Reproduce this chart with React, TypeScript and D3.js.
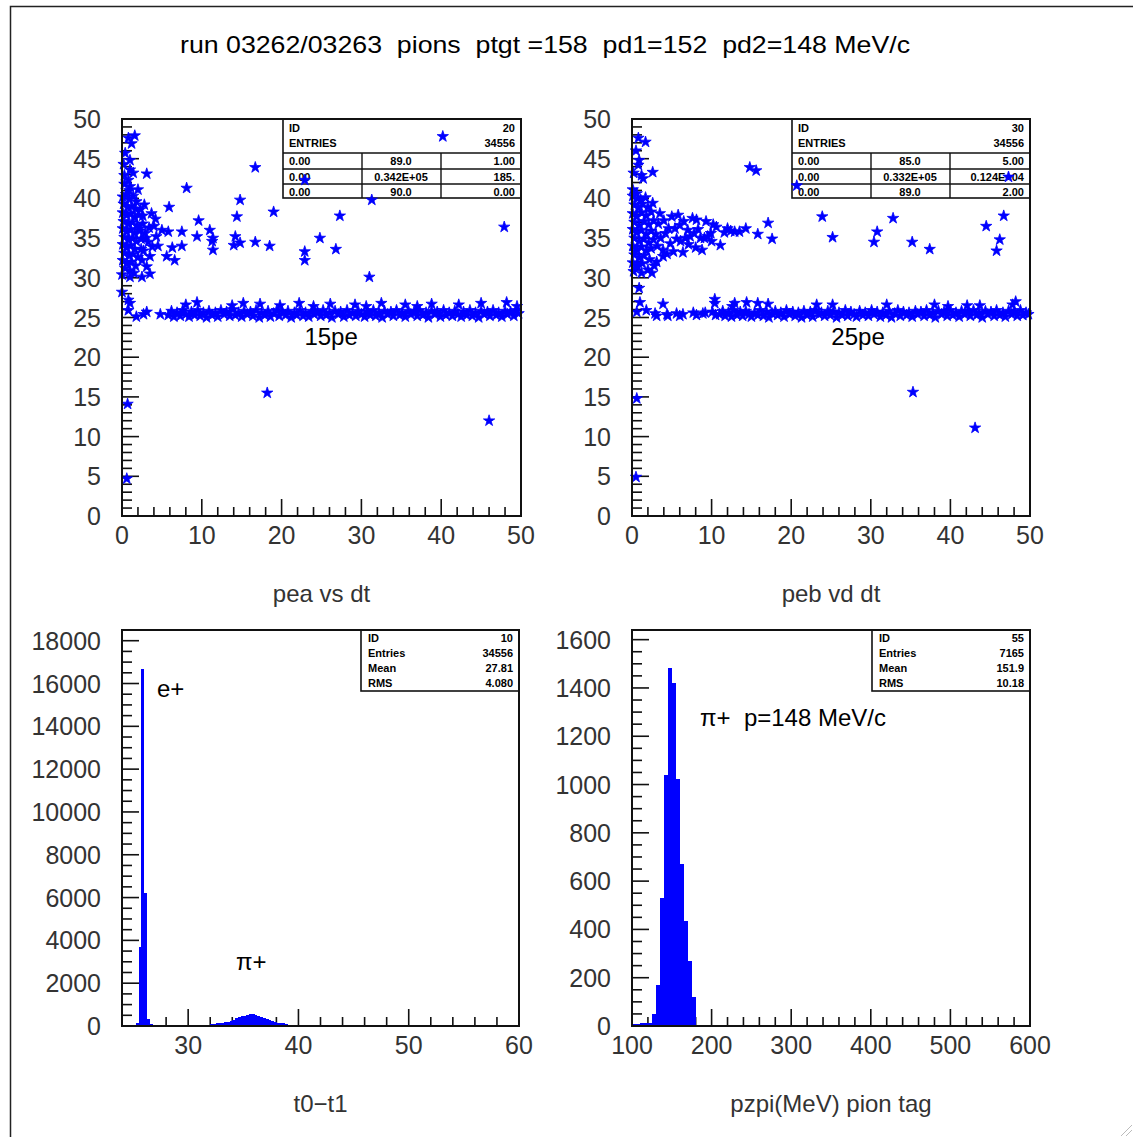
import React from 'react';
import * as d3 from 'd3';

// ---------------- DATA ----------------
const TITLE = 'run 03262/03263  pions  ptgt =158  pd1=152  pd2=148 MeV/c';

const scatterXTicks = [0, 10, 20, 30, 40, 50];
const scatterYTicks = [0, 5, 10, 15, 20, 25, 30, 35, 40, 45, 50];
const t01XTicks = [30, 40, 50, 60];
const t01YTicks = [0, 2000, 4000, 6000, 8000, 10000, 12000, 14000, 16000, 18000];
const pzXTicks = [100, 200, 300, 400, 500, 600];
const pzYTicks = [0, 200, 400, 600, 800, 1000, 1200, 1400, 1600];

const pts = (s: string): [number, number][] =>
  s.trim().split(/\s*,\s*/).map((p) => p.split(/\s+/).map(Number) as [number, number]);

// pea vs dt
const peaScattered = pts(`1.6 47.9, 0.8 47.6, 1.2 46.9, 0.4 45.7, 1.0 44.8, 0.2 44.3, 1.0 43.6, 1.4 43.2, 3.1 43.1,
 0.8 42.3, 0.3 41.8, 1.0 41.5, 2.0 41.1, 8.1 41.3, 16.7 43.9, 22.9 42.3, 14.8 39.8, 19.0 38.3, 14.4 37.7,
 5.9 38.9, 9.6 37.2, 3.7 38.1, 11.0 36.0, 9.4 35.2, 7.5 35.8, 11.4 35.0, 11.3 34.6, 14.2 35.2, 14.0 34.1,
 14.8 34.4, 16.7 34.5, 18.5 34.0, 11.4 33.5, 7.5 34.0, 6.3 33.8, 5.6 32.7, 6.6 32.2, 5.0 36.0, 5.8 35.8,
 4.3 35.2, 3.5 32.7, 3.1 31.4, 3.5 30.5, 2.5 30.1, 1.0 30.1, 0.0 28.2, 0.8 27.2, 1.0 26.8, 0.8 25.9,
 2.7 25.4, 3.1 25.7, 4.8 25.4, 1.8 25.1, 18.2 15.5, 0.7 14.1, 0.6 4.7, 22.9 33.3, 22.9 32.2, 24.8 35.0,
 26.8 33.6, 27.3 37.8, 31.3 39.8, 31.0 30.1, 40.2 47.8, 47.9 36.4, 46.0 12.0`);

const peaCluster = pts(`0.1 40.2, 0.5 40.5, 0.9 39.9, 1.4 40.3, 0.2 39.3, 0.7 38.9, 1.2 39.0, 1.7 38.7, 0.1 38.2,
 0.6 37.9, 1.1 38.1, 1.6 37.6, 2.1 37.9, 0.2 37.1, 0.8 36.8, 1.3 37.0, 1.9 36.6, 0.1 36.2, 0.6 35.8,
 1.1 36.1, 1.6 35.6, 2.2 35.9, 0.3 35.1, 0.8 34.8, 1.3 35.0, 1.8 34.6, 2.4 34.9, 0.1 34.2, 0.6 33.8,
 1.1 34.1, 1.6 33.6, 0.3 33.1, 0.9 32.8, 1.4 33.0, 2.0 32.6, 0.1 32.2, 0.6 31.8, 1.2 32.0, 1.7 31.5,
 0.4 31.2, 1.0 30.9, 0.0 30.4, 2.6 36.8, 2.9 35.6, 3.3 34.5, 2.7 33.4, 3.4 36.3, 2.5 32.2, 1.5 30.6,
 0.3 42.9, 0.9 41.0, 4.0 36.5, 2.6 37.8, 2.2 36.2, 3.0 35.0, 4.5 34.0, 2.4 33.6, 3.8 33.9, 2.8 39.2,
 1.8 39.6, 2.3 38.6, 4.2 37.4`);

const peaBand = pts(`5.8 25.3, 6.2 25.8, 6.5 25.1, 6.9 25.6, 7.3 25.2, 7.6 25.9, 8.0 25.4, 8.4 25.1, 8.7 25.7,
 9.1 25.3, 9.5 25.9, 9.8 25.2, 10.2 25.6, 10.6 25.0, 10.9 25.8, 11.3 25.3, 11.7 25.6, 12.0 25.1, 12.4 25.9,
 12.8 25.4, 13.1 25.7, 13.5 25.2, 13.9 26.0, 14.2 25.3, 14.6 25.6, 15.0 25.1, 15.3 25.8, 15.7 25.4, 16.1 25.7,
 16.4 25.2, 16.8 25.9, 17.2 25.0, 17.5 25.6, 17.9 25.3, 18.3 25.8, 18.6 25.1, 19.0 25.5, 19.4 25.9, 19.7 25.2,
 20.1 25.7, 20.5 25.3, 20.8 25.8, 21.2 25.0, 21.6 25.6, 21.9 25.3, 22.3 25.9, 22.7 25.2, 23.0 25.6, 23.4 25.1,
 23.8 25.8, 24.1 25.4, 24.5 25.7, 24.9 25.2, 25.2 25.9, 25.6 25.3, 26.0 25.6, 26.3 25.0, 26.7 25.8, 27.1 25.4,
 27.4 25.7, 27.8 25.1, 28.2 25.9, 28.5 25.3, 28.9 25.6, 29.3 25.2, 29.6 25.8, 30.0 25.4, 30.4 25.1, 30.7 25.7,
 31.1 25.3, 31.5 25.9, 31.8 25.2, 32.2 25.6, 32.6 25.0, 32.9 25.8, 33.3 25.4, 33.7 25.7, 34.0 25.2, 34.4 25.9,
 34.8 25.3, 35.1 25.6, 35.5 25.1, 35.9 25.8, 36.2 25.4, 36.6 25.7, 37.0 25.2, 37.3 25.9, 37.7 25.3, 38.1 25.6,
 38.4 25.0, 38.8 25.8, 39.2 25.4, 39.5 25.7, 39.9 25.1, 40.3 25.9, 40.6 25.3, 41.0 25.6, 41.4 25.2, 41.7 25.8,
 42.1 25.4, 42.5 25.1, 42.8 25.7, 43.2 25.3, 43.6 25.9, 43.9 25.2, 44.3 25.6, 44.7 25.0, 45.0 25.8, 45.4 25.4,
 45.8 25.7, 46.1 25.2, 46.5 25.9, 46.9 25.3, 47.2 25.6, 47.6 25.1, 48.0 25.8, 48.3 25.4, 48.7 25.7, 49.1 25.2,
 49.4 25.9, 49.7 25.5`);

const peaBandEdge = pts(`8.0 26.6, 9.4 26.9, 13.8 26.5, 15.2 26.8, 17.3 26.7, 19.8 26.5, 22.2 26.8, 24.0 26.4,
 26.1 26.7, 29.2 26.6, 30.6 26.4, 32.5 26.8, 35.5 26.6, 37.0 26.4, 38.8 26.7, 42.2 26.6, 45.0 26.8,
 48.2 26.9, 49.5 26.4`);

// peb vd dt
const pebScattered = pts(`0.8 47.6, 1.7 47.1, 0.5 46.0, 0.9 44.8, 0.8 44.2, 0.2 43.2, 1.2 42.9, 2.6 43.3, 1.4 42.5,
 0.1 41.1, 14.8 43.9, 15.6 43.5, 0.7 40.0, 17.1 36.9, 17.6 34.9, 15.8 35.5, 14.3 36.2, 12.9 35.8, 12.4 35.9,
 10.6 36.4, 11.1 34.1, 9.5 35.2, 9.1 35.0, 8.8 33.5, 8.6 35.0, 8.1 37.3, 9.3 37.1, 7.3 35.2, 6.7 35.0,
 6.4 33.2, 5.2 33.3, 4.8 34.3, 5.4 36.2, 4.6 36.2, 5.8 37.9, 5.0 37.7, 3.5 38.1, 3.9 33.5, 3.9 32.7,
 3.1 32.0, 2.0 31.0, 1.2 30.6, 0.7 31.4, 2.5 30.6, 0.9 28.7, 1.0 26.9, 0.6 25.7, 1.8 25.9, 3.9 26.7,
 0.6 14.8, 0.5 4.9, 23.9 37.7, 25.2 35.1, 30.8 35.8, 32.8 37.5, 30.4 34.5, 35.2 34.5, 37.4 33.6,
 44.5 36.5, 46.7 37.8, 46.2 34.8, 45.8 33.4, 35.3 15.6, 43.1 11.1, 20.7 41.6, 47.3 42.7, 10.4 27.3`);

const pebCluster = pts(`0.1 40.3, 0.6 40.6, 1.1 39.8, 1.7 40.1, 0.3 39.2, 0.8 38.8, 1.3 39.3, 2.0 38.9, 2.6 39.4,
 0.1 38.1, 0.6 37.7, 1.2 38.2, 1.8 37.8, 2.4 38.3, 0.3 37.0, 0.9 36.6, 1.5 37.1, 2.1 36.7, 2.7 37.2,
 0.1 36.1, 0.6 35.7, 1.2 36.0, 1.8 35.5, 2.4 35.9, 3.0 35.5, 0.3 35.0, 0.9 34.6, 1.5 34.9, 2.1 34.4,
 2.7 34.8, 0.1 34.0, 0.6 33.6, 1.2 33.9, 1.8 33.4, 2.4 33.7, 0.3 32.9, 0.9 32.5, 1.5 32.8, 2.2 32.3,
 0.1 31.9, 0.6 31.6, 1.3 31.8, 0.2 30.8, 0.4 33.3, 3.3 36.8, 3.6 35.0, 4.2 35.6, 3.2 34.0, 4.4 33.0,
 2.8 31.5, 5.6 34.9, 6.0 36.6, 7.0 36.0, 7.8 35.6, 8.3 36.1, 9.9 35.6, 10.2 36.7, 11.6 35.7, 12.0 36.2,
 13.5 35.8, 6.1 34.6, 7.1 34.2, 8.0 33.8, 10.0 34.6, 4.0 37.2, 6.5 37.1, 7.6 37.5`);

const pebBand = pts(`11.0 25.4, 11.4 25.8, 11.7 25.2, 12.1 25.6, 12.5 25.1, 12.8 25.9, 13.2 25.3, 13.6 25.7,
 13.9 25.2, 14.3 25.8, 14.7 25.4, 15.0 25.1, 15.4 25.6, 15.8 25.3, 16.1 25.9, 16.5 25.2, 16.9 25.7, 17.2 25.0,
 17.6 25.5, 18.0 25.8, 18.3 25.3, 18.7 25.6, 19.1 25.1, 19.4 25.9, 19.8 25.4, 20.2 25.7, 20.5 25.2, 20.9 25.6,
 21.3 25.0, 21.6 25.8, 22.0 25.3, 22.4 25.7, 22.7 25.1, 23.1 25.9, 23.5 25.4, 23.8 25.6, 24.2 25.2, 24.6 25.8,
 24.9 25.3, 25.3 25.7, 25.7 25.0, 26.0 25.6, 26.4 25.3, 26.8 25.9, 27.1 25.2, 27.5 25.7, 27.9 25.4, 28.2 25.1,
 28.6 25.8, 29.0 25.3, 29.3 25.6, 29.7 25.2, 30.1 25.9, 30.4 25.4, 30.8 25.7, 31.2 25.1, 31.5 25.6, 31.9 25.3,
 32.3 25.8, 32.6 25.0, 33.0 25.5, 33.4 25.9, 33.7 25.2, 34.1 25.7, 34.5 25.3, 34.8 25.6, 35.2 25.1, 35.6 25.8,
 35.9 25.4, 36.3 25.7, 36.7 25.2, 37.0 25.9, 37.4 25.3, 37.8 25.6, 38.1 25.0, 38.5 25.8, 38.9 25.4, 39.2 25.7,
 39.6 25.2, 40.0 25.9, 40.3 25.3, 40.7 25.6, 41.1 25.1, 41.4 25.8, 41.8 25.4, 42.2 25.7, 42.5 25.2, 42.9 25.9,
 43.3 25.3, 43.6 25.6, 44.0 25.0, 44.4 25.8, 44.7 25.4, 45.1 25.7, 45.5 25.2, 45.8 25.9, 46.2 25.3, 46.6 25.6,
 46.9 25.1, 47.3 25.8, 47.7 25.4, 48.0 25.7, 48.4 25.2, 48.8 25.9, 49.1 25.3, 49.5 25.6, 49.8 25.4`);

const pebBandEdge = pts(`2.9 25.5, 4.4 25.4, 5.6 25.5, 6.4 25.4, 7.7 25.6, 8.1 25.3, 8.9 25.5, 9.2 25.6, 10.1 25.7,
 10.5 25.3, 3.1 25.2, 4.5 25.2, 6.0 25.2, 10.4 26.8, 12.6 26.4, 12.9 26.8, 14.4 26.9, 15.8 26.8, 17.1 26.7,
 23.2 26.6, 25.2 26.6, 32.0 26.6, 38.0 26.6, 39.7 26.4, 42.1 26.5, 43.7 26.5, 47.8 26.6, 48.2 27.0`);

// t0-t1 histogram, bin width 0.25
const t01BinWidth = 0.25;
const t01BinLow = [25.0, 25.25, 25.5, 25.75, 26.0, 26.25, 26.5,
  32.0, 32.25, 32.5, 32.75, 33.0, 33.25, 33.5, 33.75, 34.0, 34.25, 34.5, 34.75, 35.0, 35.25,
  35.5, 35.75, 36.0, 36.25, 36.5, 36.75, 37.0, 37.25, 37.5, 37.75, 38.0, 38.25, 38.5, 38.75];
const t01Counts = [60, 150, 3700, 16700, 6200, 350, 90,
  100, 110, 120, 120, 140, 170, 200, 250, 300, 360, 400, 450, 490, 520,
  550, 550, 530, 480, 420, 380, 330, 280, 230, 190, 160, 140, 120, 100];

// pzpi histogram, bin width 5 MeV
const pzBinWidth = 5;
const pzBinLow = [100, 105, 110, 115, 120, 125, 130, 135, 140, 145, 150, 155, 160, 165, 170, 175];
const pzCounts = [10, 10, 12, 12, 14, 51, 168, 531, 1038, 1484, 1422, 1021, 670, 435, 269, 120];

// stats boxes
const box1Rows = [['0.00', '89.0', '1.00'], ['0.00', '0.342E+05', '185.'], ['0.00', '90.0', '0.00']];
const box2Rows = [['0.00', '85.0', '5.00'], ['0.00', '0.332E+05', '0.124E+04'], ['0.00', '89.0', '2.00']];
const box3Rows = [['ID', '10'], ['Entries', '34556'], ['Mean', '27.81'], ['RMS', '4.080']];
const box4Rows = [['ID', '55'], ['Entries', '7165'], ['Mean', '151.9'], ['RMS', '10.18']];

// ---------------- DRAWING ----------------
const BLUE = '#0000ff';
const INK = '#111';
const LABEL = '#333';
const SANS = '"Liberation Sans", Arial, sans-serif';
const starPath = d3.symbol().type(d3.symbolStar).size(40)() as string;

type Box = { l: number; r: number; t: number; b: number };

function Axes({ p, x, y, xMinor, xMajor, yMinor, yMajor, xTicks, yTicks }: any) {
  const [x0, x1] = x.domain();
  const [y0, y1] = y.domain();
  const xm = d3.range(Math.ceil(x0 / xMinor) * xMinor, x1 + 1e-9, xMinor);
  const ym = d3.range(Math.ceil(y0 / yMinor) * yMinor, y1 + 1e-9, yMinor);
  const isMaj = (v: number, s: number) => Math.abs(v / s - Math.round(v / s)) < 1e-6;
  return (
    <g>
      {ym.map((v: number, i: number) => (
        <line key={'y' + i} x1={p.l} x2={p.l + (isMaj(v, yMajor) ? 17 : 10)} y1={y(v)} y2={y(v)} stroke={INK} strokeWidth={1.6} />
      ))}
      {xm.map((v: number, i: number) => (
        <line key={'x' + i} y1={p.b} y2={p.b - (isMaj(v, xMajor) ? 17 : 9)} x1={x(v)} x2={x(v)} stroke={INK} strokeWidth={1.6} />
      ))}
      {yTicks.map((v: number) => (
        <text key={'yl' + v} x={p.l - 21} y={y(v)} dy="0.36em" textAnchor="end" fontSize={25} fontFamily={SANS} fill={LABEL}>{v}</text>
      ))}
      {xTicks.map((v: number) => (
        <text key={'xl' + v} x={x(v)} y={p.b + 19} dy="0.36em" textAnchor="middle" fontSize={25} fontFamily={SANS} fill={LABEL}>{v}</text>
      ))}
    </g>
  );
}

function Stars({ data, x, y }: any) {
  return (
    <g>
      {data.map((d: [number, number], i: number) => (
        <path key={i} d={starPath} transform={`translate(${x(d[0])},${y(d[1])})`} fill={BLUE} stroke={BLUE} strokeWidth={0.8} strokeLinejoin="round" />
      ))}
    </g>
  );
}

function ScatterBox({ p, id, rows }: any) {
  const l = p.r - 238;
  const t = p.t;
  const lines = [t + 34, t + 50, t + 65];
  const bottom = t + 79;
  const fs = { fontSize: 11, fontFamily: SANS, fontWeight: 700, fill: '#000' } as any;
  return (
    <g>
      <rect x={l} y={t} width={p.r - l} height={bottom - t} fill="#fff" stroke={INK} strokeWidth={1.6} />
      {lines.map((yy, i) => <line key={i} x1={l} x2={p.r} y1={yy} y2={yy} stroke={INK} strokeWidth={1.4} />)}
      <line x1={l + 79} x2={l + 79} y1={lines[0]} y2={bottom} stroke={INK} strokeWidth={1.4} />
      <line x1={l + 158} x2={l + 158} y1={lines[0]} y2={bottom} stroke={INK} strokeWidth={1.4} />
      <text x={l + 6} y={t + 13} {...fs}>ID</text>
      <text x={p.r - 6} y={t + 13} textAnchor="end" {...fs}>{id}</text>
      <text x={l + 6} y={t + 28} {...fs}>ENTRIES</text>
      <text x={p.r - 6} y={t + 28} textAnchor="end" {...fs}>34556</text>
      {rows.map((r: string[], i: number) => {
        const yy = lines[i] + 12;
        return (
          <g key={i}>
            <text x={l + 6} y={yy} {...fs}>{r[0]}</text>
            <text x={l + 118} y={yy} textAnchor="middle" {...fs}>{r[1]}</text>
            <text x={p.r - 6} y={yy} textAnchor="end" {...fs}>{r[2]}</text>
          </g>
        );
      })}
    </g>
  );
}

function HistBox({ p, rows }: any) {
  const l = p.r - 158;
  const fs = { fontSize: 11, fontFamily: SANS, fontWeight: 700, fill: '#000' } as any;
  return (
    <g>
      <rect x={l} y={p.t} width={p.r - l} height={61} fill="#fff" stroke={INK} strokeWidth={1.6} />
      {rows.map((r: string[], i: number) => (
        <g key={i}>
          <text x={l + 7} y={p.t + 12 + i * 15} {...fs}>{r[0]}</text>
          <text x={p.r - 6} y={p.t + 12 + i * 15} textAnchor="end" {...fs}>{r[1]}</text>
        </g>
      ))}
    </g>
  );
}

function ScatterPanel({ p, layers, id, rows, title, note, noteX }: any) {
  const x = d3.scaleLinear().domain([0, 50]).range([p.l, p.r]);
  const y = d3.scaleLinear().domain([0, 50]).range([p.b, p.t]);
  return (
    <g>
      <Axes p={p} x={x} y={y} xMinor={2} xMajor={10} yMinor={1} yMajor={5} xTicks={scatterXTicks} yTicks={scatterYTicks} />
      <ScatterBox p={p} id={id} rows={rows} />
      {layers.map((d: any, i: number) => <Stars key={i} data={d} x={x} y={y} />)}
      <rect x={p.l} y={p.t} width={p.r - p.l} height={p.b - p.t} fill="none" stroke={INK} strokeWidth={2} />
      <text x={x(noteX)} y={y(21.5)} textAnchor="middle" fontSize={24} fontFamily={SANS} fill="#000">{note}</text>
      <text x={(p.l + p.r) / 2} y={p.b + 77} dy="0.36em" textAnchor="middle" fontSize={24} fontFamily={SANS} fill={LABEL}>{title}</text>
    </g>
  );
}

function HistPanel({ p, xDom, yDom, lows, counts, w, xMinor, xMajor, yMinor, yMajor, xTicks, yTicks, rows, title, children }: any) {
  const x = d3.scaleLinear().domain(xDom).range([p.l, p.r]);
  const y = d3.scaleLinear().domain(yDom).range([p.b, p.t]);
  return (
    <g>
      <Axes p={p} x={x} y={y} xMinor={xMinor} xMajor={xMajor} yMinor={yMinor} yMajor={yMajor} xTicks={xTicks} yTicks={yTicks} />
      <HistBox p={p} rows={rows} />
      <g shapeRendering="crispEdges">
        {lows.map((lo: number, i: number) => (
          <rect key={i} x={x(lo)} width={x(lo + w) - x(lo) + 0.4} y={y(counts[i])} height={p.b - y(counts[i])} fill={BLUE} />
        ))}
      </g>
      <rect x={p.l} y={p.t} width={p.r - p.l} height={p.b - p.t} fill="none" stroke={INK} strokeWidth={2} />
      {children}
      <text x={(p.l + p.r) / 2} y={p.b + 77} dy="0.36em" textAnchor="middle" fontSize={24} fontFamily={SANS} fill={LABEL}>{title}</text>
    </g>
  );
}

export default function App() {
  const P1: Box = { l: 122, r: 521, t: 119, b: 516 };
  const P2: Box = { l: 632, r: 1030, t: 119, b: 516 };
  const P3: Box = { l: 122, r: 519, t: 630, b: 1026 };
  const P4: Box = { l: 632, r: 1030, t: 630, b: 1026 };
  return (
    <svg width={1133} height={1137} style={{ position: 'absolute', left: 0, top: 0, display: 'block', background: '#fff' }}>
      <rect x={0} y={0} width={1133} height={1137} fill="#fff" />
      <polyline points="10.5,1137 10.5,6.5 1133,6.5" fill="none" stroke="#222" strokeWidth={1.5} />
      <line x1={1121} y1={1136} x2={1132} y2={1125} stroke="#bbb" strokeWidth={1} />
      <line x1={1126} y1={1136} x2={1132} y2={1130} stroke="#bbb" strokeWidth={1} />
      <text x={545} y={53} textAnchor="middle" fontSize={24} fontFamily={SANS} fill="#000" style={{ whiteSpace: 'pre' }}
        textLength={730} lengthAdjust="spacingAndGlyphs">{TITLE}</text>

      <ScatterPanel p={P1} layers={[peaCluster, peaScattered, peaBand, peaBandEdge]} id="20" rows={box1Rows} title="pea vs dt" note="15pe" noteX={26.2} />
      <ScatterPanel p={P2} layers={[pebCluster, pebScattered, pebBand, pebBandEdge]} id="30" rows={box2Rows} title="peb vd dt" note="25pe" noteX={28.4} />

      <HistPanel p={P3} xDom={[24, 60]} yDom={[0, 18500]} lows={t01BinLow} counts={t01Counts} w={t01BinWidth}
        xMinor={2} xMajor={10} yMinor={500} yMajor={2000} xTicks={t01XTicks} yTicks={t01YTicks} rows={box3Rows} title="t0−t1">
        <text x={157} y={697} fontSize={24} fontFamily={SANS} fill="#000">e+</text>
        <text x={236} y={970} fontSize={24} fontFamily={SANS} fill="#000">π+</text>
      </HistPanel>
      <HistPanel p={P4} xDom={[100, 600]} yDom={[0, 1640]} lows={pzBinLow} counts={pzCounts} w={pzBinWidth}
        xMinor={20} xMajor={100} yMinor={50} yMajor={200} xTicks={pzXTicks} yTicks={pzYTicks} rows={box4Rows} title="pzpi(MeV) pion tag">
        <text x={700} y={726} fontSize={24} fontFamily={SANS} fill="#000" style={{ whiteSpace: 'pre' }}>{'π+  p=148 MeV/c'}</text>
      </HistPanel>
    </svg>
  );
}
